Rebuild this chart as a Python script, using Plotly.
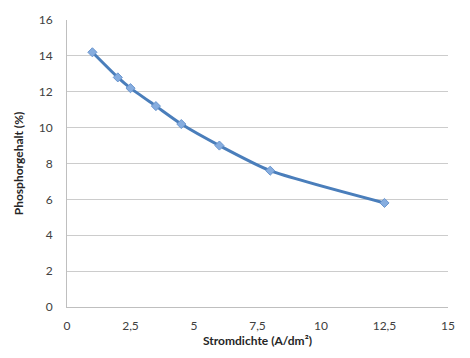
import plotly.graph_objects as go

stromdichte = [1, 2, 2.5, 3.5, 4.5, 6, 8, 12.5]
phosphorgehalt = [14.2, 12.8, 12.2, 11.2, 10.2, 9.0, 7.6, 5.8]

x_ticks = [0, 2.5, 5, 7.5, 10, 12.5, 15]
x_tick_labels = ["0", "2,5", "5", "7,5", "10", "12,5", "15"]
y_ticks = [0, 2, 4, 6, 8, 10, 12, 14, 16]

fig = go.Figure()
fig.add_trace(go.Scatter(
    x=stromdichte, y=phosphorgehalt,
    mode="lines+markers",
    line=dict(color="#4a7ebb", width=3, shape="spline", smoothing=0.6),
    marker=dict(symbol="diamond", size=7, color="#86addf",
                line=dict(color="#6b96cf", width=1)),
    showlegend=False,
))

font = "Lato, Open Sans, sans-serif"
fig.update_layout(
    width=470, height=358,
    margin=dict(l=67, r=22, t=16, b=49),
    paper_bgcolor="white", plot_bgcolor="white",
    font=dict(family=font, size=12, color="#404040"),
)
fig.update_xaxes(
    range=[0, 15], tickvals=x_ticks, ticktext=x_tick_labels,
    showgrid=False, showline=True, linecolor="#bfbfbf", linewidth=1,
    zeroline=False, ticks="", ticklabelstandoff=8,
    title=dict(text="<b>Stromdichte (A/dm²)</b>", font=dict(size=12, color="#262626"), standoff=4),
)
fig.update_yaxes(
    range=[0, 16], tickvals=y_ticks,
    showgrid=True, gridcolor="#cccccc", gridwidth=1,
    showline=True, linecolor="#bfbfbf", linewidth=1,
    zeroline=False, ticks="", ticklabelstandoff=11,
    title=dict(text="<b>Phosphorgehalt (%)</b>", font=dict(size=12, color="#262626"), standoff=12),
)

fig.write_html("out.html")
